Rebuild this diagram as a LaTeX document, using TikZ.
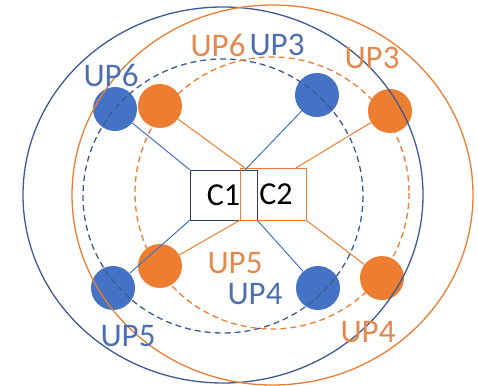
\documentclass[tikz,border=0pt]{standalone}
\usepackage{fontspec}
\setmainfont{Carlito}
\usepackage{xcolor}
\definecolor{upblue}{HTML}{4472C4}
\definecolor{ringblue}{HTML}{3D5A96}
\definecolor{textblue}{HTML}{4D6FB2}
\definecolor{uporange}{HTML}{ED7D31}
\definecolor{textorange}{HTML}{E3894D}
\definecolor{navy}{HTML}{2F3F60}
\usepackage{tikz}
\tikzset{
  upnode/.style={circle, minimum size=44pt, inner sep=0pt},
  bluenode/.style={upnode, fill=upblue},
  orangenode/.style={upnode, fill=uporange},
  cbox/.style={draw, fill=white, minimum height=50pt, inner sep=0pt, font=\fontsize{32}{34}\selectfont},
  uplabel/.style={font=\fontsize{33}{36}\selectfont, inner sep=0pt},
  ring/.style={line width=1.3pt},
  link/.style={line width=1pt},
}

\begin{document}
\begin{tikzpicture}[x=1pt, y=-1pt]
  \useasboundingbox (0,0) rectangle (478,385);
  % user plane nodes
  \node[bluenode] (b6) at (115,109) {};
  \node[bluenode] (b3) at (317,95) {};
  \node[bluenode] (b5) at (113,288) {};
  \node[bluenode] (b4) at (318,288) {};
  \node[orangenode] (o6) at (160,106) {};
  \node[orangenode] (o3) at (390,111) {};
  \node[orangenode] (o5) at (160,266) {};
  \node[orangenode] (o4) at (382,278) {};
  % rings
  \draw[ring, ringblue] (223,195) ellipse [x radius=200, y radius=188];
  \draw[ring, uporange] (272.5,195) ellipse [x radius=200.5, y radius=190];
  \draw[ring, ringblue, dashed, dash pattern=on 6pt off 4pt] (223,196) ellipse [x radius=140, y radius=137];
  \draw[ring, uporange, dashed, dash pattern=on 6pt off 4pt] (272,193) ellipse [x radius=137, y radius=136];
  % controllers
  \node[cbox, draw=navy, minimum width=67pt] (c1) at (223.5,195) {C1\hspace{13pt}};
  \node[cbox, draw=uporange, fill=none, minimum width=66pt, minimum height=52pt] (c2) at (273,194) {\hspace{6pt}C2};
  % links
  \draw[link, upblue] (b6) -- (c1.north west);
  \draw[link, upblue] (b3) -- ([xshift=-12pt]c1.north east);
  \draw[link, upblue] (b5) -- (c1.south west);
  \draw[link, upblue] (b4) -- (c1.south east);
  \draw[link, uporange] (o6) -- ([xshift=5pt]c2.north west);
  \draw[link, uporange] (o3) -- ([xshift=-10pt]c2.north east);
  \draw[link, uporange] (o5) -- (c2.south west);
  \draw[link, uporange] (o4) -- (c2.south east);
  % labels
  \node[uplabel, text=textblue] (l6b) at (111,75) {UP6};
  \node[uplabel, text=textorange] (l6o) at (218,45) {UP6};
  \node[uplabel, text=textblue] (l3b) at (277,45) {UP3};
  \node[uplabel, text=textorange] (l3o) at (372,58) {UP3};
  \node[uplabel, text=textorange] (l5o) at (235,263) {UP5};
  \node[uplabel, text=textblue] (l4b) at (255,294) {UP4};
  \node[uplabel, text=textblue] (l5b) at (128,336) {UP5};
  \node[uplabel, text=textorange] (l4o) at (368,332) {UP4};
\end{tikzpicture}
\end{document}
